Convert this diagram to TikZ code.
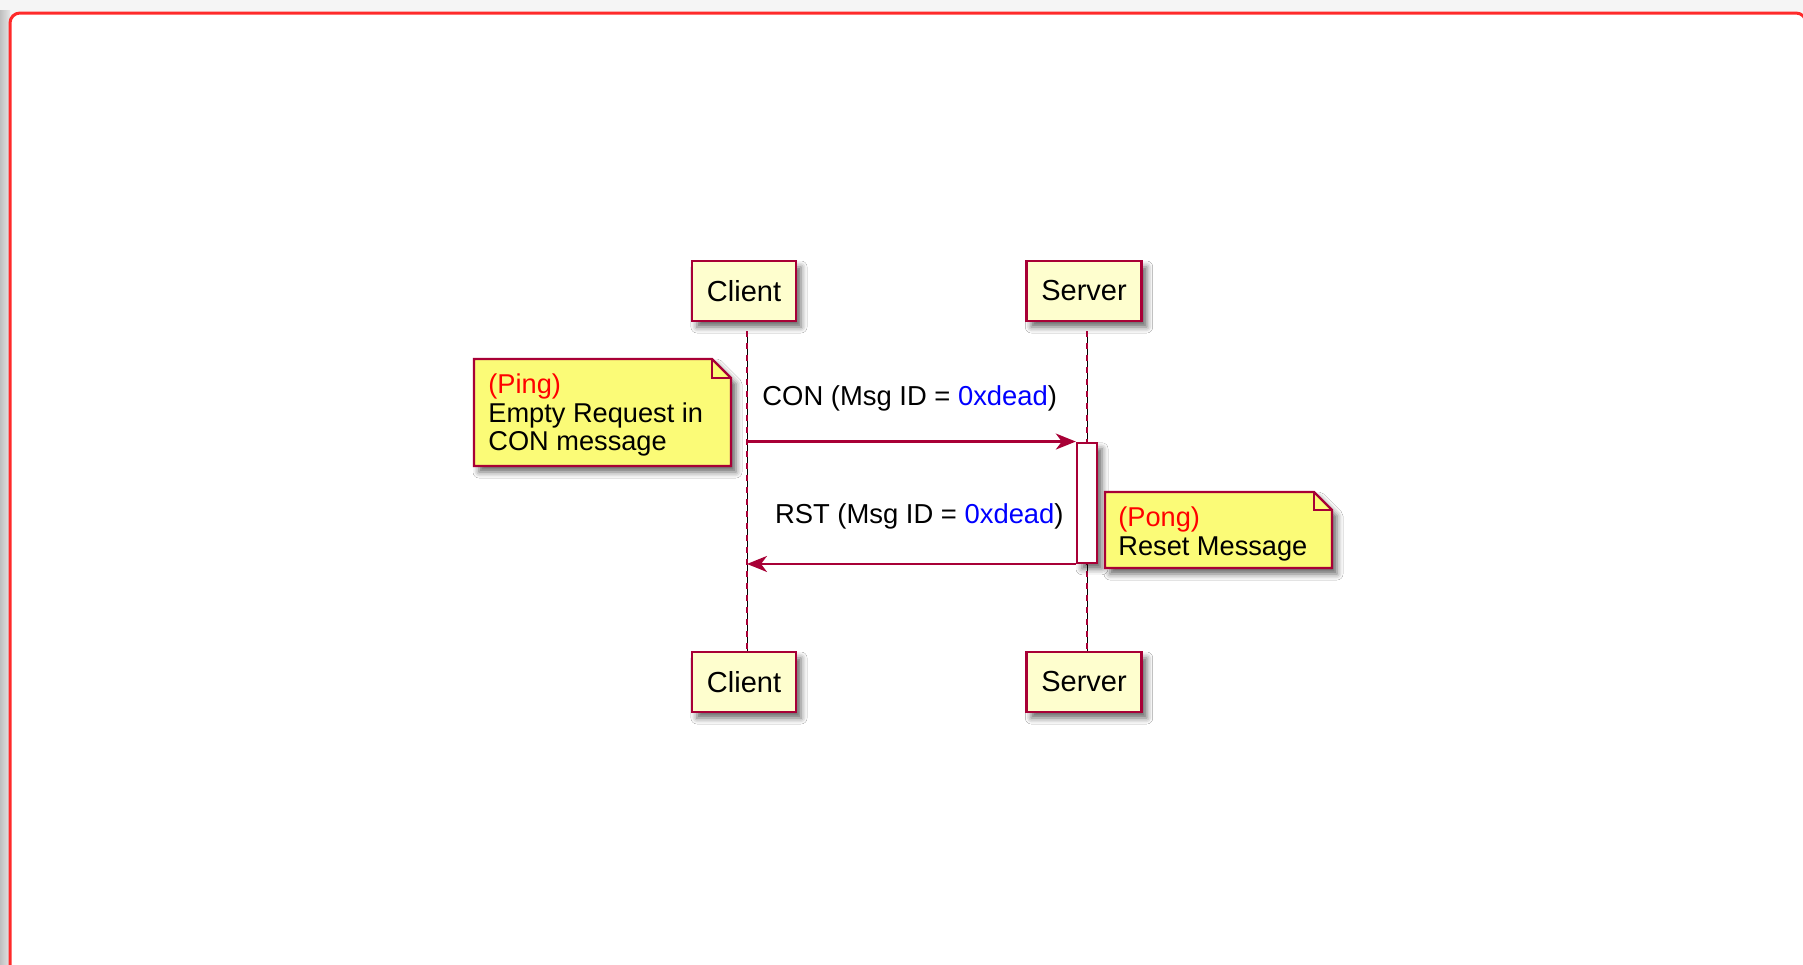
\documentclass[tikz,border=0pt]{standalone}
\usepackage{fontspec}
\setmainfont{Liberation Sans}
\usetikzlibrary{arrows.meta,shadows.blur}

\definecolor{umlmerah}{HTML}{A80036}
\definecolor{umlkrem}{HTML}{FEFECE}
\definecolor{umlkuning}{HTML}{FBFB77}
\definecolor{bingkai}{HTML}{FF2A2A}

\tikzset{
  bayangan/.style={blur shadow={shadow xshift=2.5pt, shadow yshift=-3pt, shadow blur radius=3pt, shadow opacity=60}},
  peserta/.style={draw=umlmerah, fill=umlkrem, line width=1.3pt, minimum height=30pt, inner xsep=7.5pt, font=\fontsize{14.5}{16}\selectfont, bayangan},
  aktivasi/.style={draw=umlmerah, fill=white, line width=1.2pt, minimum width=10pt, minimum height=60pt, inner sep=0pt, bayangan},
  garishidup/.style={umlmerah, line width=1.2pt, dash pattern=on 3pt off 3pt},
  pesan/.style={umlmerah, line width=1.2pt, -{Stealth[length=10pt, width=8pt, inset=3pt]}},
  labelpesan/.style={font=\fontsize{13.7}{16}\selectfont, inner sep=0pt},
  catatan/.style={draw=umlmerah, fill=umlkuning, line width=1.1pt, bayangan},
  tekscatatan/.style={align=left, inner sep=0pt, font=\fontsize{13.6}{14.25}\selectfont},
}

\begin{document}
\begin{tikzpicture}[x=0.5pt, y=-0.5pt]
    \useasboundingbox (0,0) rectangle (1803,964);

    % Latar dan bingkai
    \fill[black!4] (0,0) rectangle (1803,964);
    \shade[left color=black!25, right color=black!10] (0,10) rectangle (10,964);
    \draw[bingkai, line width=1.5pt, fill=white, rounded corners=5pt] (10,13) rectangle (1806,1000);

    % Peserta atas dan bawah
    \foreach \n/\t/\x in {c/Client/744, s/Server/1084} {
        \node[peserta] (\n-atas) at (\x,291) {\t};
        \node[peserta] (\n-bawah) at (\x,682) {\t};
        \coordinate (\n-hidup) at ([xshift=1.5pt,yshift=-4.5pt]\n-atas.south);
        \coordinate (\n-ujung) at ([xshift=1.5pt]\n-bawah.north);
        \draw[black, line width=0.4pt] (\n-hidup) -- (\n-ujung);
        \draw[garishidup] (\n-hidup) -- (\n-ujung);
    }

    % Kotak aktivasi server
    \node[aktivasi] (akt) at (1087,502.75) {};

    % Pesan
    \draw[pesan] (c-hidup |- akt.north) -- (akt.north west);
    \node[labelpesan, anchor=base west] (con) at (762,405) {CON (Msg ID = \textcolor{blue}{0xdead})};

    \draw[pesan] (akt.south west) -- (c-hidup |- akt.south);
    \node[labelpesan, anchor=base east] (rst) at (1064,523) {RST (Msg ID = \textcolor{blue}{0xdead})};

    % Catatan
    \draw[catatan] (474,359) -- (712,359) -- (731,378) -- (731,466) -- (474,466) -- cycle;
    \draw[umlmerah, line width=1.1pt] (712,359) -- (712,378) -- (731,378);
    \node[tekscatatan, anchor=west] (ping) at (488,415) {\textcolor{red}{(Ping)}\\Empty Request in\\CON message};

    \draw[catatan] (1105,492) -- (1314,492) -- (1332,510) -- (1332,568) -- (1105,568) -- cycle;
    \draw[umlmerah, line width=1.1pt] (1314,492) -- (1314,510) -- (1332,510);
    \node[tekscatatan, anchor=west] (pong) at (1118,534) {\textcolor{red}{(Pong)}\\Reset Message};

\end{tikzpicture}
\end{document}
